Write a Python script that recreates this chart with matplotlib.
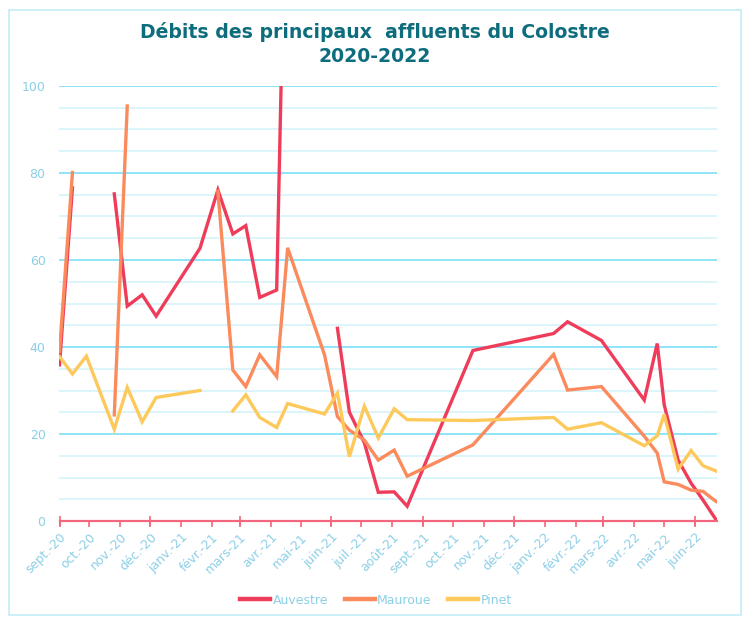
import numpy as np
import pandas as pd
import matplotlib
matplotlib.use("Agg")
import matplotlib.pyplot as plt
import matplotlib.dates as mdates
from matplotlib.ticker import MultipleLocator, FixedLocator
from matplotlib.patches import Rectangle
from matplotlib.lines import Line2D

dates = ['2020-09-01', '2020-09-14', '2020-09-28', '2020-10-26', '2020-11-08', '2020-11-23',
         '2020-12-07', '2021-01-20', '2021-02-07', '2021-02-22', '2021-03-07', '2021-03-21',
         '2021-04-07', '2021-04-18', '2021-05-25', '2021-06-07', '2021-06-19', '2021-07-04',
         '2021-07-18', '2021-08-03', '2021-08-16', '2021-10-21', '2022-01-10', '2022-01-24',
         '2022-02-27', '2022-04-11', '2022-04-24', '2022-05-01', '2022-05-15', '2022-05-28',
         '2022-06-09', '2022-06-22']
nan = np.nan
auvestre = [35.9, 76.6, nan, 75.2, 49.4, 52.0, 47.1, 62.7, 76.1, 66.0, 67.9, 51.4,
            53.1, 170.0, nan, 44.3, 25.0, 18.0, 6.6, 6.7, 3.4, 39.2, 43.1, 45.8,
            41.5, 27.8, 40.8, 26.7, 14.0, 8.7, 4.8, 0.3]
mauroue = [39.0, 80.1, nan, 24.4, 95.4, nan, nan, nan, 75.8, 34.7, 30.9, 38.2,
           33.2, 62.8, 38.2, 24.0, 20.9, 18.6, 14.0, 16.3, 10.3, 17.5, 38.3, 30.1,
           30.9, 19.5, 15.6, 9.0, 8.4, 7.1, 6.8, 4.5]
pinet = [37.8, 33.8, 37.9, 21.1, 30.7, 22.8, 28.4, 30.0, nan, 25.3, 29.0, 23.8,
         21.5, 27.0, 24.6, 29.4, 14.8, 26.4, 19.1, 25.8, 23.3, 23.1, 23.8, 21.1,
         22.6, 17.3, 19.6, 24.5, 11.9, 16.2, 12.7, 11.5]
series_names = ['Auvestre', 'Mauroue', 'Pinet']
colors = ['#ef3c5a', '#fb8a5c', '#fdc95b']
month_labels = ['sept.-20', 'oct.-20', 'nov.-20', 'déc.-20', 'janv.-21', 'févr.-21', 'mars-21',
                'avr.-21', 'mai-21', 'juin-21', 'juil.-21', 'août-21', 'sept.-21', 'oct.-21',
                'nov.-21', 'déc.-21', 'janv.-22', 'févr.-22', 'mars-22', 'avr.-22', 'mai-22',
                'juin-22']
y_ticks = [0, 20, 40, 60, 80, 100]

x = pd.to_datetime(dates)
fontfam = ['DejaVu Sans']
label_color = '#8ccfe6'

fig = plt.figure(figsize=(7.49, 6.19), dpi=100)
W, H = 749, 619
ax = fig.add_axes([59.5 / W, 1 - 521 / H, (717 - 59.5) / W, (521 - 86) / H])

for vals, name, c in zip([auvestre, mauroue, pinet], series_names, colors):
    ax.plot(x, vals, color=c, lw=2.4, label=name, solid_joinstyle='miter', zorder=3)

ax.set_ylim(0, 100)
ax.set_xlim(x[0], x[-1] + pd.Timedelta(days=1))

ax.yaxis.set_major_locator(FixedLocator(y_ticks))
ax.yaxis.set_minor_locator(MultipleLocator(5))
ax.grid(axis='y', which='major', color='#86e3f6', lw=1.3, zorder=0)
ax.grid(axis='y', which='minor', color='#d2f3fb', lw=1.1, zorder=0)
ax.tick_params(axis='y', which='both', length=0, labelsize=9, labelcolor=label_color, pad=10)
for lab in ax.get_yticklabels():
    lab.set_family(fontfam)

month_pos = pd.date_range('2020-09-01', periods=len(month_labels), freq='MS')
ax.xaxis.remove_overlapping_locs = False
ax.xaxis.set_major_locator(FixedLocator(mdates.date2num(month_pos[::3])))
ax.xaxis.set_minor_locator(FixedLocator(mdates.date2num(month_pos)))
ax.xaxis.set_major_formatter(plt.NullFormatter())
ax.xaxis.set_minor_formatter(plt.FixedFormatter(month_labels))
ax.tick_params(axis='x', which='major', length=7, width=1.2, color='#f2667e', direction='inout')
ax.tick_params(axis='x', which='minor', length=4, width=1.2, color='#f2667e', direction='out',
               labelsize=9, labelcolor=label_color, pad=3)
for lab in ax.xaxis.get_minorticklabels():
    lab.set_rotation(45)
    lab.set_ha('right')
    lab.set_va('top')
    lab.set_rotation_mode('anchor')
    lab.set_family(fontfam)

for s in ['top', 'right', 'left']:
    ax.spines[s].set_visible(False)
ax.spines['bottom'].set_color('#f2667e')
ax.spines['bottom'].set_linewidth(1.6)
ax.spines['bottom'].set_zorder(4)

# title
title_color = '#0d6d7c'
fig.text(0.5, 1 - 32 / H, 'Débits des principaux  affluents du Colostre', ha='center', va='center',
         fontsize=13.6, fontweight='bold', color=title_color, family=fontfam)
fig.text(0.5, 1 - 57 / H, '2020-2022', ha='center', va='center',
         fontsize=13.6, fontweight='bold', color=title_color, family=fontfam)

# legend
handles = [Line2D([], [], color=c, lw=3.2) for c in colors]
leg = fig.legend(handles, series_names, loc='center', bbox_to_anchor=(376 / W, 1 - 600 / H),
                 ncol=3, frameon=False, handlelength=2.4, handletextpad=0.2, columnspacing=1.3,
                 prop={'family': fontfam, 'size': 9})
for t in leg.get_texts():
    t.set_color(label_color)

# outer border
fig.patches.append(Rectangle((9 / W, 4 / H), (741 - 9) / W, (609 - 4) / H, transform=fig.transFigure,
                             fill=False, edgecolor='#c4ecf6', lw=1.2))

fig.savefig('out.png', dpi=100, facecolor='white')
